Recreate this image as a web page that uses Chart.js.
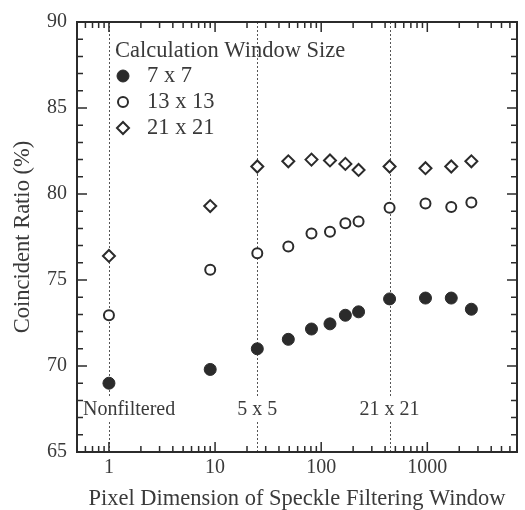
<!DOCTYPE html>
<html>
<head>
<meta charset="utf-8">
<script src="https://cdn.jsdelivr.net/npm/chart.js@4.4.0/dist/chart.umd.min.js"></script>
<style>
  html, body { margin: 0; padding: 0; background: #fff; }
</style>
</head>
<body>
<canvas id="speckleChart" width="525" height="510"></canvas>
<script>
// window size in pixels (1x1, 3x3, 5x5 ... 51x51)
const windowPixels = [1, 9, 25, 49, 81, 121, 169, 225, 441, 961, 1681, 2601];
const ratio7x7   = [69.0, 69.8, 71.0, 71.55, 72.15, 72.45, 72.95, 73.15, 73.9, 73.95, 73.95, 73.3];
const ratio13x13 = [72.95, 75.6, 76.55, 76.95, 77.7, 77.8, 78.3, 78.4, 79.2, 79.45, 79.25, 79.5];
const ratio21x21 = [76.4, 79.3, 81.6, 81.9, 82.0, 81.95, 81.75, 81.4, 81.6, 81.5, 81.6, 81.9];
const seriesLabels = ['7 x 7', '13 x 13', '21 x 21'];
const legendTitle = 'Calculation Window Size';
const xTickValues = [1, 10, 100, 1000];
const yTickValues = [65, 70, 75, 80, 85, 90];
const markerLines = [1, 25, 441];
const markerTexts = ['Nonfiltered', '5 x 5', '21 x 21'];

const INK = '#2b2b2b';
const TEXT = '#3a3a3a';
const FONT_FAMILY = "'Liberation Serif', 'DejaVu Serif', serif";
const TICK_SIZE = 20;
const TITLE_SIZE = 22.5;

function toPoints(values) {
  return windowPixels.map((x, i) => ({ x: x, y: values[i] }));
}

// ticks pointing inward on all four sides
const frameTicks = {
  id: 'frameTicks',
  afterDraw(chart) {
    const ctx = chart.ctx;
    const a = chart.chartArea;
    const xs = chart.scales.x;
    const ys = chart.scales.y;
    ctx.save();
    ctx.strokeStyle = INK;
    ctx.lineWidth = 2;
    ctx.strokeRect(a.left, a.top, a.right - a.left, a.bottom - a.top);

    ctx.lineWidth = 1.5;
    ctx.beginPath();
    for (let v = 65; v <= 90; v++) {
      const y = ys.getPixelForValue(v);
      const len = v % 5 === 0 ? 10 : 6;
      ctx.moveTo(a.left, y); ctx.lineTo(a.left + len, y);
      ctx.moveTo(a.right, y); ctx.lineTo(a.right - len, y);
    }
    for (let p = -1; p <= 3; p++) {
      for (let d = 1; d <= 9; d++) {
        const v = d * Math.pow(10, p);
        if (v < xs.min || v > xs.max) continue;
        const x = xs.getPixelForValue(v);
        const len = d === 1 ? 10 : 6;
        ctx.moveTo(x, a.bottom); ctx.lineTo(x, a.bottom - len);
        ctx.moveTo(x, a.top); ctx.lineTo(x, a.top + len);
      }
    }
    ctx.stroke();
    ctx.restore();
  }
};

// dotted reference lines for filtered windows, with labels near the bottom
const refLines = {
  id: 'refLines',
  beforeDatasetsDraw(chart) {
    const ctx = chart.ctx;
    const a = chart.chartArea;
    const xs = chart.scales.x;
    const labelY = a.bottom - 42;
    ctx.save();
    ctx.strokeStyle = '#555';
    ctx.lineWidth = 1;
    ctx.setLineDash([2, 2]);
    markerLines.forEach(v => {
      const x = Math.round(xs.getPixelForValue(v)) + 0.5;
      ctx.beginPath();
      ctx.moveTo(x, a.top);
      ctx.lineTo(x, labelY - 13);
      ctx.moveTo(x, labelY + 12);
      ctx.lineTo(x, a.bottom);
      ctx.stroke();
    });
    ctx.setLineDash([]);
    ctx.fillStyle = TEXT;
    ctx.font = TICK_SIZE + 'px ' + FONT_FAMILY;
    ctx.textBaseline = 'middle';
    markerLines.forEach((v, i) => {
      const x = xs.getPixelForValue(v);
      if (i === 0) {
        ctx.textAlign = 'left';
        ctx.fillText(markerTexts[i], a.left + 6, labelY);
      } else {
        ctx.textAlign = 'center';
        ctx.fillText(markerTexts[i], x, labelY);
      }
    });
    ctx.restore();
  }
};

// legend drawn inside the plot, top left
const innerLegend = {
  id: 'innerLegend',
  afterDraw(chart) {
    const ctx = chart.ctx;
    const a = chart.chartArea;
    ctx.save();
    ctx.fillStyle = TEXT;
    ctx.font = TITLE_SIZE + 'px ' + FONT_FAMILY;
    ctx.textAlign = 'left';
    ctx.textBaseline = 'middle';
    ctx.fillText(legendTitle, a.left + 38, a.top + 29);
    chart.data.datasets.forEach((ds, i) => {
      const y = a.top + 54 + i * 26;
      ctx.fillStyle = ds.backgroundColor;
      ctx.strokeStyle = ds.borderColor;
      ctx.lineWidth = ds.borderWidth;
      Chart.helpers.drawPoint(ctx, {
        pointStyle: ds.pointStyle,
        radius: ds.pointRadius,
        rotation: 0,
        borderWidth: ds.borderWidth
      }, a.left + 46, y);
      ctx.fillStyle = TEXT;
      ctx.fillText(ds.label, a.left + 70, y);
    });
    ctx.restore();
  }
};

new Chart(document.getElementById('speckleChart'), {
  type: 'scatter',
  data: {
    datasets: [
      {
        label: seriesLabels[0],
        data: toPoints(ratio7x7),
        pointStyle: 'circle',
        pointRadius: 6,
        backgroundColor: INK,
        borderColor: INK,
        borderWidth: 1
      },
      {
        label: seriesLabels[1],
        data: toPoints(ratio13x13),
        pointStyle: 'circle',
        pointRadius: 5,
        backgroundColor: '#fff',
        borderColor: INK,
        borderWidth: 2
      },
      {
        label: seriesLabels[2],
        data: toPoints(ratio21x21),
        pointStyle: 'rectRot',
        pointRadius: 6,
        backgroundColor: '#fff',
        borderColor: INK,
        borderWidth: 2
      }
    ]
  },
  options: {
    responsive: false,
    animation: false,
    layout: { padding: { top: 16, right: 7, left: 0, bottom: 0 } },
    plugins: {
      legend: { display: false },
      tooltip: { enabled: false }
    },
    scales: {
      x: {
        type: 'logarithmic',
        min: 0.5,
        max: 7000,
        grid: { display: false, drawTicks: false },
        border: { display: false },
        afterBuildTicks: scale => { scale.ticks = xTickValues.map(v => ({ value: v })); },
        afterFit: scale => { scale.height = 58; },
        ticks: {
          autoSkip: false,
          maxRotation: 0,
          padding: 4,
          color: TEXT,
          font: { family: FONT_FAMILY, size: TICK_SIZE },
          callback: v => String(v)
        },
        title: {
          display: true,
          text: 'Pixel Dimension of Speckle Filtering Window',
          color: TEXT,
          font: { family: FONT_FAMILY, size: TITLE_SIZE },
          padding: { top: 0, bottom: -3 }
        }
      },
      y: {
        min: 65,
        max: 90,
        grid: { display: false, drawTicks: false },
        border: { display: false },
        afterBuildTicks: scale => { scale.ticks = yTickValues.map(v => ({ value: v })); },
        afterFit: scale => { scale.width = 77; },
        ticks: {
          padding: 10,
          color: TEXT,
          font: { family: FONT_FAMILY, size: TICK_SIZE }
        },
        title: {
          display: true,
          text: 'Coincident Ratio (%)',
          color: TEXT,
          font: { family: FONT_FAMILY, size: TITLE_SIZE },
          padding: { top: 10, bottom: 0 }
        }
      }
    }
  },
  plugins: [refLines, frameTicks, innerLegend]
});
</script>
</body>
</html>
